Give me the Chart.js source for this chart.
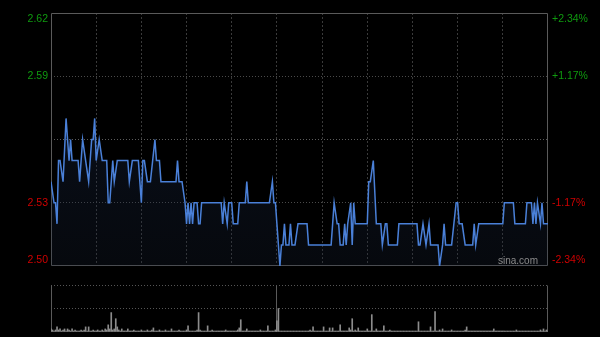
<!DOCTYPE html>
<html>
<head>
<meta charset="utf-8">
<script src="https://cdn.jsdelivr.net/npm/chart.js@4.4.1/dist/chart.umd.min.js"></script>
<style>
    html, body { margin: 0; padding: 0; background: #000; }
    #wrap { position: relative; width: 600px; height: 337px; overflow: hidden; }
    #priceChart { position: absolute; left: 0; top: 0; }
    #volChart { position: absolute; left: 0; top: 278px; }
</style>
</head>
<body>
<div id="wrap">
    <canvas id="priceChart" width="600" height="272"></canvas>
    <canvas id="volChart" width="600" height="59"></canvas>
</div>
<script>
// minutes since 9:30 (lunch break removed), price at each turning point
const priceMinutes = [
    0, 2, 3, 4, 5, 6, 8, 10, 12, 13, 14, 18, 19, 21, 23, 25, 27, 28, 29, 30,
    32, 34, 37, 38, 39, 41, 42, 44, 51, 52, 54, 58, 60, 61, 62, 64, 66, 69, 70, 72,
    73, 83, 84, 85, 87, 89, 90, 91, 92, 93, 94, 95, 97, 98, 99, 100, 113, 114, 115, 117,
    118, 120, 121, 124, 125, 129, 130, 131, 145, 147, 148, 149, 150, 152, 153, 154, 155, 156, 158, 159,
    160, 162, 164, 170, 171, 186, 188, 190, 191, 192, 194, 195, 196, 197, 199, 200, 201, 202, 210, 211,
    212, 214, 216, 219, 220, 222, 223, 224, 230, 231, 243, 244, 245, 247, 249, 251, 252, 257, 258, 260,
    261, 262, 266, 269, 270, 271, 273, 275, 280, 281, 282, 284, 300, 301, 307, 308, 315, 316, 319, 320,
    321, 322, 323, 325, 326, 327, 330
];
const prices = [
    2.54, 2.53, 2.53, 2.52, 2.55, 2.55, 2.54, 2.57, 2.55, 2.56, 2.55, 2.55, 2.54, 2.56, 2.55, 2.54, 2.56, 2.56, 2.57, 2.55,
    2.56, 2.55, 2.55, 2.53, 2.53, 2.55, 2.54, 2.55, 2.55, 2.54, 2.55, 2.55, 2.53, 2.55, 2.55, 2.54, 2.54, 2.56, 2.55, 2.55,
    2.54, 2.54, 2.55, 2.54, 2.54, 2.53, 2.52, 2.53, 2.52, 2.53, 2.52, 2.53, 2.53, 2.52, 2.52, 2.53, 2.53, 2.52, 2.53, 2.52,
    2.53, 2.53, 2.52, 2.52, 2.53, 2.53, 2.54, 2.53, 2.53, 2.54, 2.53, 2.53, 2.52, 2.50, 2.51, 2.51, 2.52, 2.51, 2.51, 2.52,
    2.51, 2.51, 2.52, 2.52, 2.51, 2.51, 2.53, 2.52, 2.52, 2.51, 2.51, 2.52, 2.51, 2.52, 2.53, 2.51, 2.53, 2.52, 2.52, 2.54,
    2.54, 2.55, 2.52, 2.52, 2.51, 2.52, 2.52, 2.51, 2.51, 2.52, 2.52, 2.51, 2.51, 2.52, 2.51, 2.52, 2.51, 2.51, 2.50, 2.51,
    2.52, 2.51, 2.51, 2.53, 2.53, 2.52, 2.52, 2.51, 2.51, 2.52, 2.51, 2.52, 2.52, 2.53, 2.53, 2.52, 2.52, 2.53, 2.53, 2.52,
    2.53, 2.52, 2.53, 2.52, 2.53, 2.52, 2.52
];

// volume per minute, 0..330
const volumes = [
    3, 2, 1, 2, 5, 2, 3, 1, 2, 3, 1, 3, 2, 1, 3, 1, 2, 1, 1, 1, 2, 1, 2, 5, 1, 5, 1, 1, 2, 1,
    1, 2, 1, 1, 2, 1, 3, 2, 7, 3, 19, 2, 3, 13, 5, 2, 1, 3, 1, 1, 1, 3, 1, 1, 1, 2, 1, 1, 1, 1,
    2, 1, 1, 1, 2, 1, 1, 2, 4, 1, 1, 1, 2, 1, 1, 1, 2, 1, 1, 1, 3, 1, 1, 1, 1, 2, 1, 1, 1, 1,
    2, 6, 1, 1, 1, 1, 1, 2, 19, 2, 1, 1, 1, 1, 6, 1, 1, 2, 1, 1, 1, 1, 1, 1, 1, 1, 2, 1, 1, 1,
    1, 1, 1, 1, 2, 4, 12, 1, 1, 1, 3, 1, 1, 1, 1, 1, 1, 1, 1, 2, 1, 1, 1, 1, 6, 1, 1, 1, 1, 2,
    11, 23, 1, 1, 1, 1, 1, 1, 1, 1, 1, 1, 1, 1, 1, 1, 1, 1, 1, 1, 1, 1, 2, 1, 5, 1, 1, 1, 1, 1,
    1, 5, 1, 1, 1, 4, 1, 4, 1, 1, 1, 1, 7, 1, 1, 1, 1, 1, 4, 2, 13, 1, 2, 1, 4, 1, 1, 1, 1, 1,
    3, 1, 1, 17, 1, 1, 3, 1, 1, 1, 1, 6, 1, 1, 1, 2, 1, 1, 1, 1, 1, 1, 1, 1, 1, 1, 1, 1, 1, 1,
    1, 1, 1, 1, 10, 1, 1, 1, 1, 1, 1, 1, 5, 1, 1, 20, 1, 1, 2, 1, 3, 1, 1, 1, 1, 1, 2, 1, 1, 1,
    1, 1, 1, 1, 1, 2, 5, 1, 1, 1, 1, 1, 1, 1, 1, 1, 1, 1, 1, 1, 1, 1, 1, 1, 3, 1, 1, 1, 1, 1,
    1, 1, 1, 1, 1, 1, 1, 1, 1, 2, 1, 1, 1, 1, 1, 1, 1, 1, 1, 1, 1, 1, 1, 1, 1, 2, 1, 3, 1, 2,
    1
];

const prevClose = 2.56;
const priceTicks = [2.50, 2.53, 2.56, 2.59, 2.62];
const priceLabels = ['2.50', '2.53', '', '2.59', '2.62'];
const pctLabels = ['-2.34%', '-1.17%', '', '+1.17%', '+2.34%'];
const timeTicks = [0, 30, 60, 90, 120, 150, 180, 210, 240, 270, 300, 330];
const volTicks = [0, 23, 46];

const UP = '#0f9a0f';
const DOWN = '#d00000';
const FRAME = '#5a5a5a';
const LABEL_FONT = '10.5px "Liberation Sans", Arial, sans-serif';

const framePlugin = {
    id: 'frame',
    beforeDatasetsDraw(chart, args, opts) {
        const { ctx, chartArea: a } = chart;
        ctx.save();
        ctx.strokeStyle = FRAME;
        ctx.lineWidth = 1;
        ctx.beginPath();
        const l = Math.round(a.left) + 0.5, r = Math.round(a.right) - 0.5;
        const t = Math.round(a.top) + 0.5, b = Math.round(a.bottom) - 0.5;
        if (opts.sides.includes('l')) { ctx.moveTo(l, t); ctx.lineTo(l, b); }
        if (opts.sides.includes('r')) { ctx.moveTo(r, t); ctx.lineTo(r, b); }
        if (opts.sides.includes('t')) { ctx.moveTo(l, t); ctx.lineTo(r, t); }
        if (opts.sides.includes('b')) { ctx.moveTo(l, b); ctx.lineTo(r, b); }
        ctx.stroke();
        ctx.restore();
    }
};

const axisLabels = {
    id: 'axisLabels',
    afterDraw(chart) {
        const { ctx, chartArea: a } = chart;
        const y = chart.scales.y;
        ctx.save();
        ctx.font = LABEL_FONT;
        ctx.textBaseline = 'middle';
        priceTicks.forEach((v, i) => {
            let py = y.getPixelForValue(v);
            py = Math.min(Math.max(py, a.top + 6), a.bottom - 6);
            ctx.fillStyle = v > prevClose ? UP : DOWN;
            ctx.textAlign = 'right';
            ctx.fillText(priceLabels[i], a.left - 3, py);
            ctx.textAlign = 'left';
            ctx.fillText(pctLabels[i], a.right + 4, py);
        });
        // watermark
        ctx.font = '10px "Liberation Sans", Arial, sans-serif';
        ctx.fillStyle = '#8a8a8a';
        ctx.textAlign = 'right';
        ctx.fillText('sina.com', a.right - 10, a.bottom - 5);
        ctx.restore();
    }
};

const priceData = priceMinutes.map((m, i) => ({ x: m, y: prices[i] }));
const volData = volumes.map((v, i) => ({ x: i, y: v }));

// eslint-disable-next-line no-unused-vars
const priceChart = new Chart(document.getElementById('priceChart'), {
    type: 'line',
    data: {
        datasets: [{
            data: priceData,
            borderColor: '#4a80d8',
            borderWidth: 1.5,
            pointRadius: 0,
            tension: 0,
            fill: 'start',
            backgroundColor: ctx => {
                const area = ctx.chart.chartArea;
                if (!area) return 'transparent';
                const g = ctx.chart.ctx.createLinearGradient(0, area.top, 0, area.bottom);
                g.addColorStop(0, 'rgba(30, 55, 100, 0.35)');
                g.addColorStop(1, 'rgba(25, 35, 55, 0.25)');
                return g;
            }
        }]
    },
    options: {
        responsive: false,
        animation: false,
        layout: { padding: { top: 13, bottom: 6, left: 0, right: 0 } },
        plugins: {
            legend: { display: false },
            tooltip: { enabled: false },
            frame: { sides: 'lrtb' }
        },
        scales: {
            x: {
                type: 'linear',
                min: 0,
                max: 330,
                afterBuildTicks: s => { s.ticks = timeTicks.map(v => ({ value: v })); },
                afterFit: s => { s.height = 0; },
                ticks: { display: false },
                grid: {
                    drawTicks: false,
                    color: c => (c.tick.value === 0 || c.tick.value === 330) ? 'transparent' : '#3a3a3a'
                },
                border: { display: false, dash: [2, 2] }
            },
            y: {
                position: 'left',
                min: 2.50,
                max: 2.62,
                afterBuildTicks: s => { s.ticks = priceTicks.map(v => ({ value: v })); },
                afterFit: s => { s.width = 51; },
                ticks: { display: false },
                grid: {
                    drawTicks: false,
                    color: c => {
                        const v = c.tick.value;
                        if (v === 2.50 || v === 2.62) return 'transparent';
                        return Math.abs(v - prevClose) < 1e-6 ? '#5c5c5c' : '#4a4a4a';
                    }
                },
                border: { display: false, dash: [1, 2] }
            },
            y2: {
                position: 'right',
                min: 2.50,
                max: 2.62,
                afterFit: s => { s.width = 52; },
                ticks: { display: false },
                grid: { display: false },
                border: { display: false }
            }
        }
    },
    plugins: [framePlugin, axisLabels]
});

// eslint-disable-next-line no-unused-vars
const volChart = new Chart(document.getElementById('volChart'), {
    type: 'bar',
    data: {
        datasets: [{
            data: volData,
            backgroundColor: '#8c8c8c',
            barThickness: 1
        }]
    },
    options: {
        responsive: false,
        animation: false,
        layout: { padding: { top: 7, bottom: 5, left: 51, right: 52 } },
        plugins: {
            legend: { display: false },
            tooltip: { enabled: false },
            frame: { sides: 'lr' }
        },
        scales: {
            x: {
                type: 'linear',
                display: true,
                offset: false,
                min: 0,
                max: 330,
                afterBuildTicks: s => { s.ticks = [{ value: 150 }]; },
                afterFit: s => { s.height = 0; },
                ticks: { display: false },
                grid: { drawTicks: false, offset: false, color: FRAME },
                border: { display: false }
            },
            y: {
                display: true,
                min: 0,
                max: 46,
                afterBuildTicks: s => { s.ticks = volTicks.map(v => ({ value: v })); },
                afterFit: s => { s.width = 0; },
                ticks: { display: false },
                grid: {
                    drawTicks: false,
                    color: c => c.tick.value === 0 ? 'transparent' : '#555'
                },
                border: { display: false, dash: [1, 2] }
            }
        }
    },
    plugins: [framePlugin]
});
</script>
</body>
</html>
